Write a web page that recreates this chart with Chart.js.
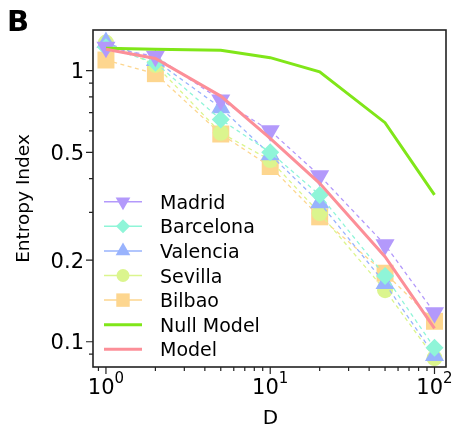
<!DOCTYPE html>
<html>
<head>
<meta charset="utf-8">
<script src="https://cdn.jsdelivr.net/npm/chart.js@4.4.1/dist/chart.umd.min.js"></script>
<style>
html, body { margin: 0; padding: 0; background: #fff; }
</style>
</head>
<body>
<canvas id="entropy" width="458" height="425"></canvas>
<script>
// D values on the x axis
const dValues = [1, 2, 5, 10, 20, 50, 100]

// entropy index per city
const madrid = [1.22, 1.13, 0.78, 0.60, 0.41, 0.228, 0.128]
const barcelona = [1.22, 1.07, 0.66, 0.50, 0.348, 0.175, 0.095]
const valencia = [1.27, 1.09, 0.73, 0.49, 0.326, 0.164, 0.089]
const sevilla = [1.27, 1.05, 0.59, 0.468, 0.298, 0.155, 0.087]
const bilbao = [1.095, 0.975, 0.584, 0.443, 0.289, 0.179, 0.119]
const nullModel = [1.21, 1.20, 1.19, 1.117, 0.99, 0.643, 0.348]
const model = [1.20, 1.11, 0.806, 0.563, 0.384, 0.206, 0.112]

const yTickLabels = [0.1, 0.2, 0.5, 1]
const yMinorTicks = [0.09, 0.3, 0.4, 0.6, 0.7, 0.8, 0.9]
const xTickLabels = [1, 10, 100]
const xMinorTicks = [0.9, 2, 3, 4, 5, 6, 7, 8, 9, 20, 30, 40, 50, 60, 70, 80, 90]

const colors = {
	madrid: '#b399fb',
	barcelona: '#8ff5d8',
	valencia: '#99b3fd',
	sevilla: '#dbf58e',
	bilbao: '#fdd68f',
	nullModel: '#80e619',
	model: '#fc8f98'
}

const FONT = '"DejaVu Sans", sans-serif'
const pts = (vals) => vals.map((v, i) => ({x: dValues[i], y: v}))

function city(label, vals, color, style, radius, rotation) {
	return {
		label: label,
		data: pts(vals),
		borderColor: color,
		borderWidth: 1.3,
		borderDash: [4, 3.5],
		backgroundColor: color,
		pointBackgroundColor: color,
		pointBorderWidth: 0,
		pointStyle: style,
		pointRadius: radius,
		pointRotation: rotation || 0,
		tension: 0
	}
}

function curve(label, vals, color, order) {
	return {
		label: label,
		data: pts(vals),
		borderColor: color,
		borderWidth: 3,
		pointRadius: 0,
		tension: 0,
		order: order
	}
}

const datasets = [
	curve('Model', model, colors.model, -2),
	curve('Null Model', nullModel, colors.nullModel, -1),
	city('Madrid', madrid, colors.madrid, 'triangle', 11, 180),
	city('Barcelona', barcelona, colors.barcelona, 'rectRot', 9),
	city('Valencia', valencia, colors.valencia, 'triangle', 11),
	city('Sevilla', sevilla, colors.sevilla, 'circle', 8),
	city('Bilbao', bilbao, colors.bilbao, 'rect', 12)
]

const legendItems = [
	{label: 'Madrid', color: colors.madrid, style: 'triangle', r: 8.5, rot: 180},
	{label: 'Barcelona', color: colors.barcelona, style: 'rectRot', r: 7},
	{label: 'Valencia', color: colors.valencia, style: 'triangle', r: 8.5, rot: 0},
	{label: 'Sevilla', color: colors.sevilla, style: 'circle', r: 6.5},
	{label: 'Bilbao', color: colors.bilbao, style: 'rect', r: 9.5},
	{label: 'Null Model', color: colors.nullModel, thick: true},
	{label: 'Model', color: colors.model, thick: true}
]

function drawMarker(ctx, style, r, x, y, rot) {
	ctx.beginPath()
	if (style === 'triangle') {
		let a = (rot || 0) * Math.PI / 180
		for (let k = 0; k < 3; k++) {
			const px = x + Math.sin(a) * r
			const py = y - Math.cos(a) * r
			k === 0 ? ctx.moveTo(px, py) : ctx.lineTo(px, py)
			a += Math.PI * 2 / 3
		}
		ctx.closePath()
	} else if (style === 'rect') {
		const s = r * Math.SQRT1_2
		ctx.rect(x - s, y - s, 2 * s, 2 * s)
	} else if (style === 'rectRot') {
		ctx.moveTo(x - r, y)
		ctx.lineTo(x, y - r)
		ctx.lineTo(x + r, y)
		ctx.lineTo(x, y + r)
		ctx.closePath()
	} else {
		ctx.arc(x, y, r, 0, Math.PI * 2)
	}
	ctx.fill()
}

const axesPlugin = {
	id: 'axesPlugin',
	afterDraw(chart) {
		const {ctx, chartArea: a, scales: {x, y}} = chart
		ctx.save()
		ctx.strokeStyle = '#222'
		ctx.fillStyle = '#000'
		ctx.lineWidth = 1.6
		ctx.strokeRect(a.left, a.top, a.right - a.left, a.bottom - a.top)

		// ticks
		ctx.lineWidth = 1.2
		ctx.beginPath()
		yTickLabels.forEach(v => { const py = y.getPixelForValue(v); ctx.moveTo(a.left, py); ctx.lineTo(a.left - 7, py) })
		yMinorTicks.forEach(v => { const py = y.getPixelForValue(v); ctx.moveTo(a.left, py); ctx.lineTo(a.left - 4, py) })
		xTickLabels.forEach(v => { const px = x.getPixelForValue(v); ctx.moveTo(px, a.bottom); ctx.lineTo(px, a.bottom + 7) })
		xMinorTicks.forEach(v => { const px = x.getPixelForValue(v); ctx.moveTo(px, a.bottom); ctx.lineTo(px, a.bottom + 4) })
		ctx.stroke()

		// y tick labels
		ctx.font = '21px ' + FONT
		ctx.textAlign = 'right'
		ctx.textBaseline = 'alphabetic'
		yTickLabels.forEach(v => ctx.fillText(String(v), a.left - 9, y.getPixelForValue(v) + 7.6))

		// x tick labels as 10^n
		ctx.textAlign = 'left'
		xTickLabels.forEach(v => {
			const px = x.getPixelForValue(v)
			const exp = String(Math.round(Math.log10(v)))
			ctx.font = '21px ' + FONT
			const wBase = ctx.measureText('10').width
			ctx.font = '15px ' + FONT
			const wExp = ctx.measureText(exp).width
			const left = px - (wBase + wExp) / 2
			ctx.font = '21px ' + FONT
			ctx.fillText('10', left, a.bottom + 27)
			ctx.font = '15px ' + FONT
			ctx.fillText(exp, left + wBase, a.bottom + 16)
		})

		// axis titles
		ctx.font = '20px ' + FONT
		ctx.textAlign = 'center'
		ctx.fillText('D', (a.left + a.right) / 2 + 1, 424)
		ctx.font = '18.5px ' + FONT
		ctx.save()
		ctx.translate(29, (a.top + a.bottom) / 2)
		ctx.rotate(-Math.PI / 2)
		ctx.fillText('Entropy Index', 0, 0)
		ctx.restore()

		// panel letter
		ctx.font = 'bold 29px ' + FONT
		ctx.textAlign = 'left'
		ctx.fillText('B', 7, 31)

		// legend
		legendItems.forEach((item, i) => {
			const ly = 201.7 + i * 24.6
			ctx.strokeStyle = item.color
			ctx.lineWidth = item.thick ? 3 : 1.5
			ctx.beginPath()
			ctx.moveTo(104, ly)
			ctx.lineTo(142, ly)
			ctx.stroke()
			if (item.style) {
				ctx.fillStyle = item.color
				drawMarker(ctx, item.style, item.r, 123, ly, item.rot)
			}
			ctx.fillStyle = '#000'
			ctx.font = '19px ' + FONT
			ctx.textAlign = 'left'
			ctx.fillText(item.label, 160, ly + 7)
		})
		ctx.restore()
	}
}

const chart = new Chart('entropy', {
	type: 'line',
	data: {datasets: datasets},
	options: {
		responsive: false,
		animation: false,
		layout: {padding: {left: 93, top: 30, right: 4, bottom: 58}},
		plugins: {legend: {display: false}, tooltip: {enabled: false}},
		scales: {
			x: {type: 'logarithmic', min: 0.834, max: 117.5, display: false},
			y: {type: 'logarithmic', min: 0.0807, max: 1.413, display: false}
		}
	},
	plugins: [axesPlugin]
})
</script>
</body>
</html>
